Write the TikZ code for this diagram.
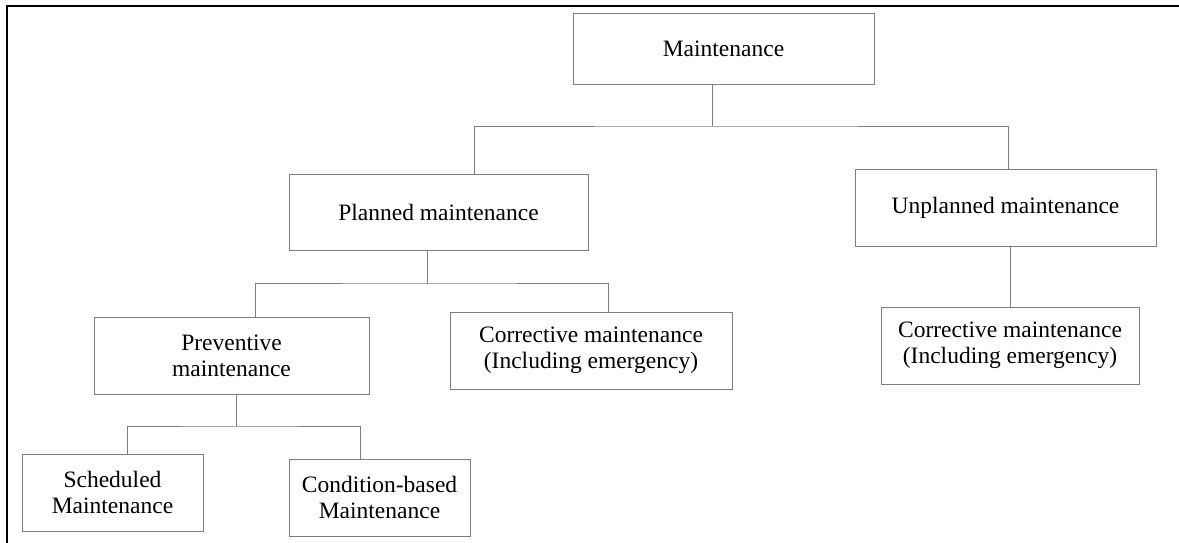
\documentclass[tikz,border=0pt]{standalone}
\usepackage{fontspec}
\setmainfont{Liberation Serif}
\usetikzlibrary{positioning}
\definecolor{boxgray}{RGB}{125,125,125}
\tikzset{
	box/.style={draw=boxgray, line width=1pt, align=center, inner sep=0pt,
		font=\fontsize{23.5}{26}\selectfont},
	link/.style={draw=boxgray, line width=1pt}
}

\begin{document}
\begin{tikzpicture}[x=1pt, y=-1pt]
			%%%%% START %%%%%
			
			\useasboundingbox (0, 0) rectangle (1179, 542);
			\clip (0, 0) rectangle (1179, 542);
			\draw[line width=2pt] (7, 6) rectangle (1200, 560);
			
			\node[box, minimum width=301pt, minimum height=71pt] (main) at (723.5, 48.5) {Maintenance};
			
			\node[box, minimum width=299pt, minimum height=76pt] (plan) at (438.5, 212) {Planned maintenance};
			\node[box, minimum width=301pt, minimum height=77pt] (unplan) at (1005.5, 207.5) {Unplanned maintenance};
			
			\node[box, minimum width=275pt, minimum height=77pt] (prev) at (231.5, 355.5) {Preventive\\maintenance};
			\node[box, minimum width=282pt, minimum height=77pt] (corrA) at (591, 350.5) {Corrective maintenance\\(Including emergency)};
			\node[box, minimum width=258pt, minimum height=77pt] (corrB) at (1010, 345.5) {Corrective maintenance\\(Including emergency)};
			
			\node[box, minimum width=181pt, minimum height=77pt] (sched) at (112.5, 492.5) {Scheduled\\Maintenance};
			\node[box, minimum width=181pt, minimum height=77pt] (cond) at (379.5, 497.5) {Condition-based\\Maintenance};
			
			\coordinate (busA) at (712, 126);
			\coordinate (busB) at (427, 283);
			\coordinate (busC) at (236, 426);
			
			\draw[link] ([xshift=-11.5pt]main.south) -- (busA);
			\draw[link] ([xshift=35.5pt]plan.north) |- (busA) -| ([xshift=2.5pt]unplan.north);
			
			\draw[link] ([xshift=-11.5pt]plan.south) -- (busB);
			\draw[link] ([xshift=23.5pt]prev.north) |- (busB) -| ([xshift=17pt]corrA.north);
			
			\draw[link] (corrB.north) -- (corrB.north |- unplan.south);
			
			\draw[link] ([xshift=4.5pt]prev.south) -- (busC);
			\draw[link] ([xshift=14.5pt]sched.north) |- (busC) -| ([xshift=-19.5pt]cond.north);
			
			%%%%% END %%%%%
\end{tikzpicture}
\end{document}
